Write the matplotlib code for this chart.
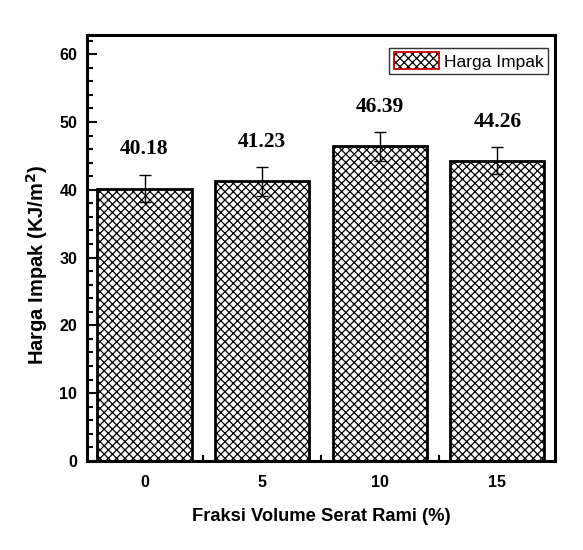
import numpy as np
import matplotlib.pyplot as plt
from matplotlib.patches import Patch
from matplotlib.ticker import MultipleLocator

# data
fraksi = ['0', '5', '10', '15']
harga = [40.18, 41.23, 46.39, 44.26]
err = [2.0, 2.1, 2.1, 2.0]

plt.rcParams['font.family'] = ['Liberation Sans', 'DejaVu Sans']
plt.rcParams['hatch.linewidth'] = 0.9

fig = plt.figure(figsize=(5.83, 5.5), dpi=100)
ax = fig.add_axes([0.149, 0.162, 0.803, 0.774])

x = np.arange(len(fraksi))
ax.bar(x, harga, width=0.8, color='white', edgecolor='black', linewidth=2, hatch='xxxx', zorder=2)
ax.errorbar(x, harga, yerr=err, fmt='none', ecolor='black', elinewidth=1, capsize=4, capthick=1, zorder=3)

for xi, v, e in zip(x, harga, err):
    ax.text(xi, v + e + 2.3, f'{v:.2f}', ha='center', va='bottom',
            family='Liberation Serif', fontweight='bold', fontsize=15.5)

ax.set_xlim(-0.49, 3.49)
ax.set_ylim(0, 62.8)
ax.set_xticks(x)
ax.set_xticklabels(fraksi)
ax.xaxis.set_minor_locator(MultipleLocator(0.5))
ax.yaxis.set_major_locator(MultipleLocator(10))
ax.yaxis.set_minor_locator(MultipleLocator(2))
ax.tick_params(which='both', direction='in', width=1.5, top=False, right=False)
ax.tick_params(which='major', length=7, labelsize=11.5)
ax.tick_params(which='minor', length=4)
ax.tick_params(axis='y', pad=7)
ax.tick_params(axis='x', pad=10)
for lab in ax.get_xticklabels() + ax.get_yticklabels():
    lab.set_fontweight('bold')

for sp in ax.spines.values():
    sp.set_linewidth(2.2)

ax.set_xlabel('Fraksi Volume Serat Rami (%)', fontsize=13.2, fontweight='bold', labelpad=13)
ax.set_ylabel('Harga Impak (KJ/m$^\\mathbf{2}$)', fontsize=14.5, fontweight='bold')
ax.yaxis.set_label_coords(-0.078, 0.46)

# legend handle: black hatch with red border
hatch_patch = Patch(facecolor='white', edgecolor='black', hatch='xxxx', linewidth=0)
border_patch = Patch(facecolor='none', edgecolor='#cc0000', linewidth=1.3)
leg = ax.legend([(hatch_patch, border_patch)], ['Harga Impak'], loc='upper right',
                bbox_to_anchor=(0.985, 0.97), fancybox=False, edgecolor='black',
                fontsize=12.5, handlelength=2.6, handleheight=1.1, borderpad=0.25,
                handletextpad=0.3, borderaxespad=0)
leg.get_frame().set_linewidth(1.0)

plt.savefig('out.png', dpi=100)
